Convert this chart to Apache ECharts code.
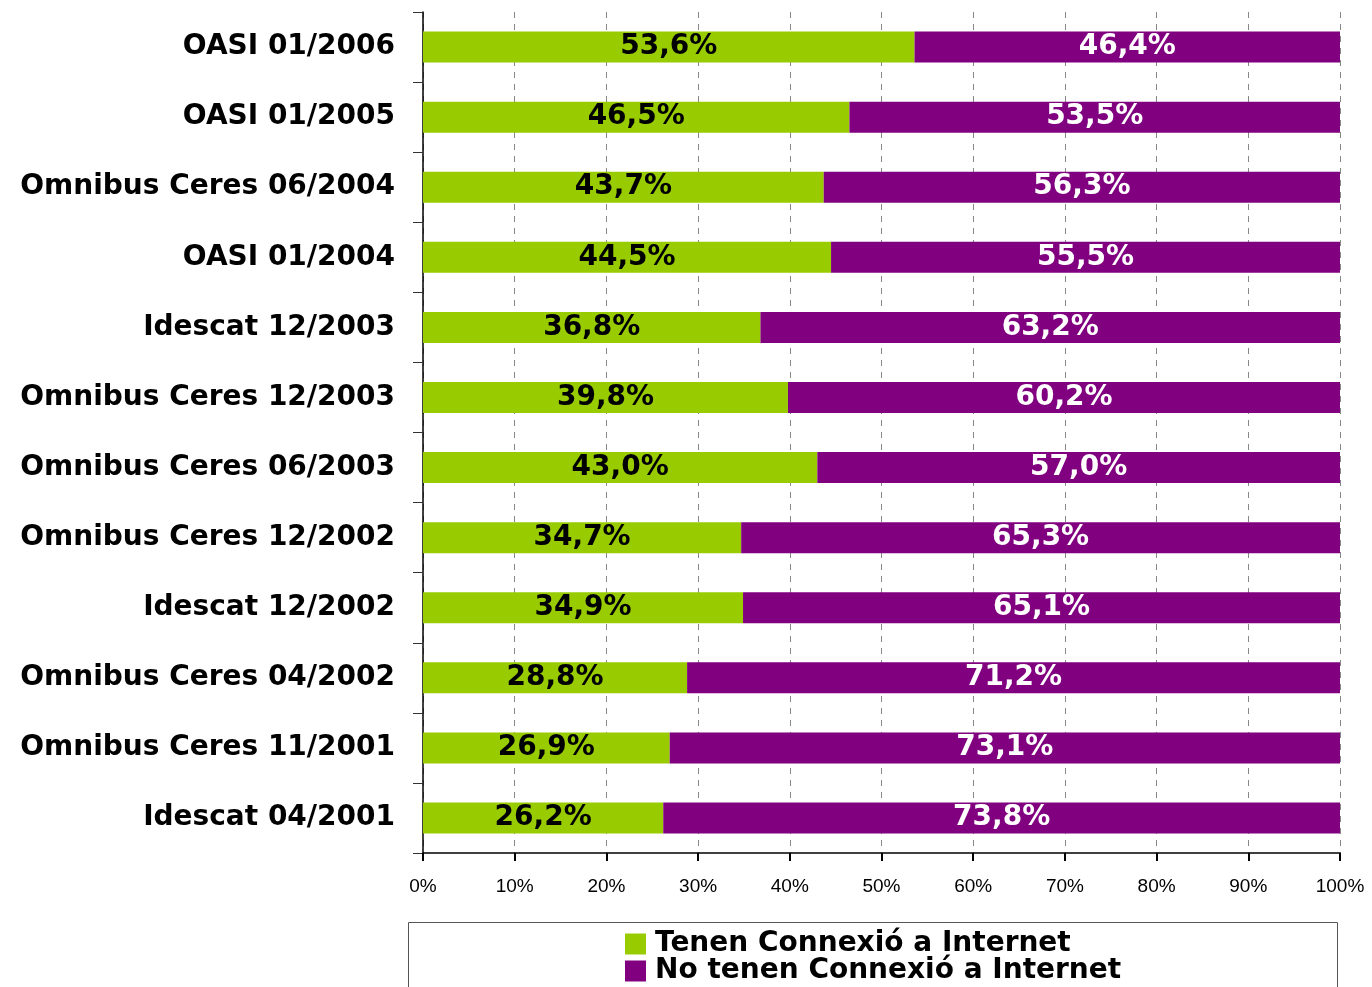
<!DOCTYPE html>
<html>
<head>
<meta charset="utf-8">
<script src="https://cdn.jsdelivr.net/npm/echarts@6/dist/echarts.min.js"></script>
<style>
  html, body { margin: 0; padding: 0; background: #fff; }
  #chart { width: 1372px; height: 987px; }
</style>
</head>
<body>
<div id="chart"></div>
<script>
// categories, top to bottom
var categories = ['OASI 01/2006', 'OASI 01/2005', 'Omnibus Ceres 06/2004', 'OASI 01/2004',
  'Idescat 12/2003', 'Omnibus Ceres 12/2003', 'Omnibus Ceres 06/2003', 'Omnibus Ceres 12/2002',
  'Idescat 12/2002', 'Omnibus Ceres 04/2002', 'Omnibus Ceres 11/2001', 'Idescat 04/2001'];
var amb = [53.6, 46.5, 43.7, 44.5, 36.8, 39.8, 43.0, 34.7, 34.9, 28.8, 26.9, 26.2];
var sense = [46.4, 53.5, 56.3, 55.5, 63.2, 60.2, 57.0, 65.3, 65.1, 71.2, 73.1, 73.8];
var seriesNames = ['Tenen Connexió a Internet', 'No tenen Connexió a Internet'];

var chart = echarts.init(document.getElementById('chart'));

function fmt(p) {
    return p.value.toFixed(1).replace('.', ',') + '%';
}

var font = 'DejaVu Sans';

// una llegenda per element, així no es parteix en columnes
function legendItem(name, top) {
    return {
        left: 625,
        top: top,
        padding: 0,
        itemWidth: 21,
        itemHeight: 21,
        icon: 'rect',
        data: [name],
        textStyle: { fontFamily: font, fontWeight: 'bold', fontSize: 28, color: '#000', padding: [0, 0, 0, 4] }
    };
}

chart.setOption({
    animation: false,
    grid: { left: 423, right: 32, top: 12, bottom: 134 },
    legend: [legendItem(seriesNames[0], 930), legendItem(seriesNames[1], 957)],
    graphic: [{
        type: 'rect',
        shape: { x: 408.5, y: 922.5, width: 929, height: 80 },
        style: { fill: 'none', stroke: '#555', lineWidth: 1 },
        z: -1
    }],
    xAxis: {
        type: 'value',
        min: 0,
        max: 100,
        interval: 10,
        axisLine: { show: true, lineStyle: { color: '#000', width: 1.5 } },
        axisTick: { show: true, length: 8, inside: false, lineStyle: { color: '#000', width: 2 } },
        axisLabel: { formatter: '{value}%', fontFamily: 'Liberation Sans', fontSize: 19, color: '#000', margin: 24 },
        splitLine: { show: true, lineStyle: { color: '#888', type: [6, 6], width: 1 } }
    },
    yAxis: {
        type: 'category',
        inverse: true,
        data: categories,
        axisLine: { show: true, lineStyle: { color: '#000', width: 1.5 } },
        axisTick: { show: true, length: 10, lineStyle: { color: '#333' } },
        axisLabel: { fontFamily: font, fontWeight: 'bold', fontSize: 28, color: '#000', margin: 28 }
    },
    series: [{
        name: seriesNames[0],
        type: 'bar',
        stack: 'total',
        barWidth: 31,
        data: amb,
        itemStyle: { color: '#99cc00' },
        label: { show: true, position: 'inside', formatter: fmt, fontFamily: font, fontWeight: 'bold', fontSize: 28, color: '#000' }
    }, {
        name: seriesNames[1],
        type: 'bar',
        stack: 'total',
        barWidth: 31,
        data: sense,
        itemStyle: { color: '#800080' },
        label: { show: true, position: 'inside', formatter: fmt, fontFamily: font, fontWeight: 'bold', fontSize: 28, color: '#fff' }
    }]
});
</script>
</body>
</html>
